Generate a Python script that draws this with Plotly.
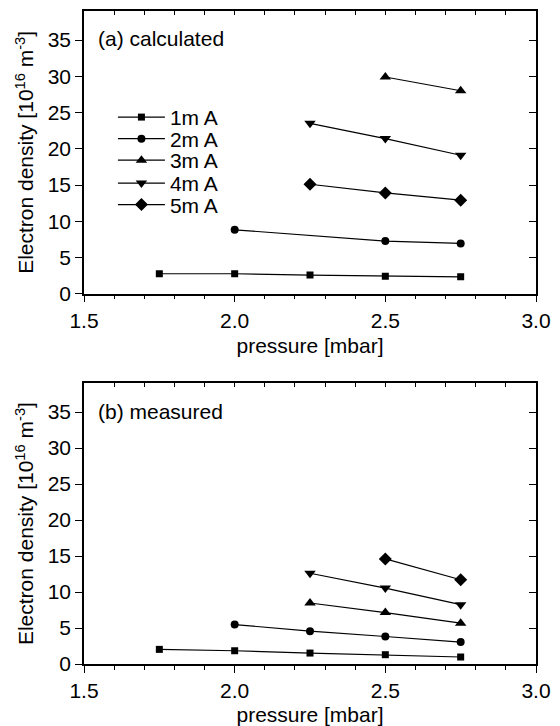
import plotly.graph_objects as go

# (a) calculated
calc_1ma_x = [1.75, 2.0, 2.25, 2.5, 2.75]
calc_1ma_y = [2.76, 2.76, 2.57, 2.43, 2.34]
calc_2ma_x = [2.0, 2.5, 2.75]
calc_2ma_y = [8.82, 7.26, 6.94]
calc_3ma_x = [2.5, 2.75]
calc_3ma_y = [29.9, 28.0]
calc_4ma_x = [2.25, 2.5, 2.75]
calc_4ma_y = [23.5, 21.4, 19.1]
calc_5ma_x = [2.25, 2.5, 2.75]
calc_5ma_y = [15.1, 13.9, 12.9]

# (b) measured
meas_1ma_x = [1.75, 2.0, 2.25, 2.5, 2.75]
meas_1ma_y = [2.03, 1.84, 1.52, 1.29, 0.97]
meas_2ma_x = [2.0, 2.25, 2.5, 2.75]
meas_2ma_y = [5.48, 4.56, 3.82, 3.04]
meas_3ma_x = [2.25, 2.5, 2.75]
meas_3ma_y = [8.47, 7.14, 5.67]
meas_4ma_x = [2.25, 2.5, 2.75]
meas_4ma_y = [12.6, 10.55, 8.24]
meas_5ma_x = [2.5, 2.75]
meas_5ma_y = [14.6, 11.7]

names = ['1m A', '2m A', '3m A', '4m A', '5m A']
symbols = ['square', 'circle', 'triangle-up', 'triangle-down', 'diamond']
marker_sizes = [7, 8, 10, 10, 10]

calc = [(calc_1ma_x, calc_1ma_y), (calc_2ma_x, calc_2ma_y), (calc_3ma_x, calc_3ma_y),
        (calc_4ma_x, calc_4ma_y), (calc_5ma_x, calc_5ma_y)]
meas = [(meas_1ma_x, meas_1ma_y), (meas_2ma_x, meas_2ma_y), (meas_3ma_x, meas_3ma_y),
        (meas_4ma_x, meas_4ma_y), (meas_5ma_x, meas_5ma_y)]

# top / right tick axes are overlays; ranges are fixed and identical,
# so putting a series on an overlay axis changes nothing visually
calc_axes = [('x', 'y'), ('x', 'y'), ('x', 'y'), ('x3', 'y'), ('x', 'y3')]
meas_axes = [('x2', 'y2'), ('x2', 'y2'), ('x2', 'y2'), ('x4', 'y2'), ('x2', 'y4')]

FONT = 'Liberation Sans, Arial, sans-serif'
legend_ids = ['legend', 'legend2', 'legend3', 'legend4', 'legend5']
legend_y = [0.837, 0.804, 0.771, 0.736, 0.703]

fig = go.Figure()

for i, (xs, ys) in enumerate(calc):
    fig.add_trace(go.Scatter(
        x=xs, y=ys, name=names[i], mode='lines+markers',
        line=dict(color='black', width=1.2),
        marker=dict(symbol=symbols[i], size=marker_sizes[i], color='black'),
        xaxis=calc_axes[i][0], yaxis=calc_axes[i][1], legend=legend_ids[i]
    ))

for i, (xs, ys) in enumerate(meas):
    fig.add_trace(go.Scatter(
        x=xs, y=ys, name=names[i], mode='lines+markers', showlegend=False,
        line=dict(color='black', width=1.2),
        marker=dict(symbol=symbols[i], size=marker_sizes[i], color='black'),
        xaxis=meas_axes[i][0], yaxis=meas_axes[i][1]
    ))

xbase = dict(
    range=[1.5, 3.0], tick0=1.5, dtick=0.5, tickformat='.1f',
    ticks='outside', ticklen=7, tickwidth=1.2, tickcolor='black',
    minor=dict(dtick=0.1, tick0=1.5, ticks='outside', ticklen=4, tickcolor='black', tickwidth=1.2),
    showline=True, mirror=True, linecolor='black', linewidth=1.5,
    showgrid=False, zeroline=False,
    title=dict(text='pressure [mbar]', standoff=8, font=dict(size=21)),
)
ybase = dict(
    range=[0, 39], tick0=0, dtick=5,
    ticks='outside', ticklen=7, tickwidth=1.2, tickcolor='black',
    showline=True, mirror=True, linecolor='black', linewidth=1.5,
    showgrid=False, zeroline=False,
    title=dict(text='Electron density [10<sup>16</sup> m<sup>-3</sup>]', standoff=8,
               font=dict(size=21)),
)
xtop = dict(
    range=[1.5, 3.0], side='top', tick0=1.5, dtick=0.1,
    ticks='inside', ticklen=4, tickwidth=1.2, tickcolor='black',
    showticklabels=False, showline=False,
    showgrid=False, zeroline=False,
)
yright = dict(
    range=[0, 39], side='right', tick0=0, dtick=5,
    ticks='inside', ticklen=7, tickwidth=1.2, tickcolor='black',
    showticklabels=False, showline=False,
    showgrid=False, zeroline=False,
)

# page body has an 8px margin, so the figure is 8px smaller than the window
fig.update_layout(
    width=552, height=718,
    paper_bgcolor='white', plot_bgcolor='white',
    font=dict(family=FONT, size=21, color='black'),
    margin=dict(l=76, r=24, t=1, b=61),
    xaxis=dict(xbase, anchor='y'),
    yaxis=dict(ybase, anchor='x', domain=[0.567, 1.0]),
    xaxis2=dict(xbase, anchor='y2'),
    yaxis2=dict(ybase, anchor='x2', domain=[0.0, 0.430]),
    xaxis3=dict(xtop, overlaying='x', anchor='y'),
    yaxis3=dict(yright, overlaying='y', anchor='x'),
    xaxis4=dict(xtop, overlaying='x2', anchor='y2'),
    yaxis4=dict(yright, overlaying='y2', anchor='x2'),
    annotations=[
        dict(text='(a) calculated', xref='x domain', yref='y domain', x=0.026, y=0.902,
             xanchor='left', yanchor='middle', showarrow=False, font=dict(size=21)),
        dict(text='(b) measured', xref='x2 domain', yref='y2 domain', x=0.026, y=0.90,
             xanchor='left', yanchor='middle', showarrow=False, font=dict(size=21)),
    ],
)

for lid, ly in zip(legend_ids, legend_y):
    fig.update_layout({lid: dict(x=0.064, y=ly, xanchor='left', yanchor='middle',
                                 bgcolor='rgba(0,0,0,0)', borderwidth=0, itemwidth=47,
                                 font=dict(family=FONT, size=21, color='black'))})

fig.write_html('out.html')
